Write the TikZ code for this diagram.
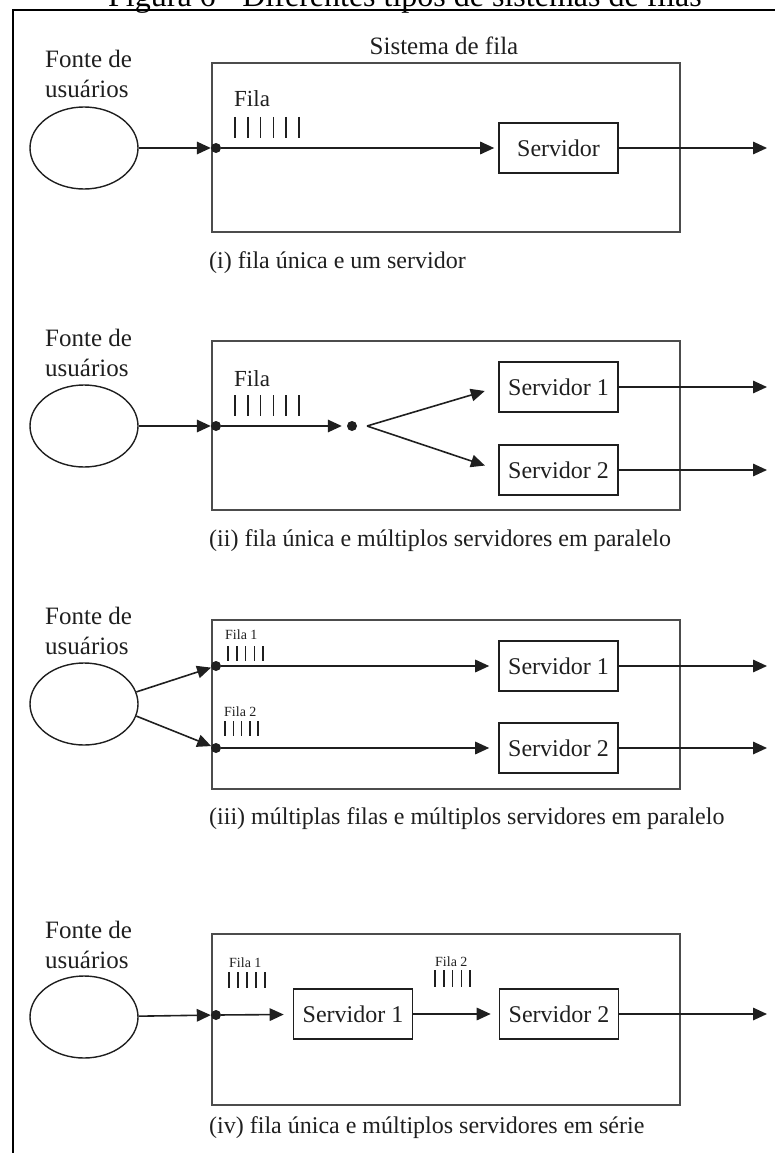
\documentclass[tikz,border=0pt]{standalone}
\usepackage{fontspec}
\setmainfont{Liberation Serif}
\usetikzlibrary{arrows.meta,shapes.geometric}

\definecolor{ink}{gray}{0.12}
\definecolor{boxink}{gray}{0.30}

\tikzset{
  conn/.style={draw=ink, line width=1.6pt},
  arr/.style={conn, -{Triangle[length=14pt,width=12.5pt]}},
  bar/.style={draw=ink, line width=1.5pt},
  outerframe/.style={draw=black, line width=2pt},
  sysbox/.style={rectangle, draw=boxink, line width=2pt, minimum width=468pt, minimum height=169pt, inner sep=0pt},
  source/.style={ellipse, draw=ink, line width=1.4pt, minimum width=108pt, minimum height=82pt, inner sep=0pt},
  server/.style={rectangle, draw=ink, line width=1.6pt, minimum width=119pt, minimum height=50pt, inner sep=0pt, text=ink, font=\fontsize{24}{24}\selectfont},
  qdot/.style={circle, fill=ink, inner sep=0pt, minimum size=10pt},
  lbl/.style={inner sep=0pt, anchor=base west, text=ink, font=\fontsize{25}{30}\selectfont},
  qlbl/.style={inner sep=0pt, anchor=base west, text=ink, font=\fontsize{23}{28}\selectfont},
  smalllbl/.style={inner sep=0pt, anchor=base west, text=ink, font=\fontsize{14}{14}\selectfont},
  caption/.style={inner sep=0pt, anchor=base west, text=ink, font=\fontsize{24}{29}\selectfont},
}

\begin{document}
\begin{tikzpicture}[x=1pt,y=-1pt]
\useasboundingbox (0,0) rectangle (775,1153);
\clip (0,0) rectangle (775,1153);

% figure title and outer frame
\node[inner sep=0pt, anchor=base, text=black, font=\fontsize{32}{38}\selectfont] (title) at (405,7) {Figura 6 - Diferentes tipos de sistemas de filas};
\draw[outerframe] (13,1170) -- (13,10) -- (800,10);

% ---------- (i) single queue, one server ----------
\node[lbl] (f1a) at (45,68) {Fonte de};
\node[lbl] (f1b) at (45,98) {usuários};
\node[source] (e1) at (84,148) {};
\node[sysbox] (b1) at (446,147.5) {};
\node[lbl, anchor=base] (sys) at (444,55) {Sistema de fila};
\node[qdot] (d1) at (216,148) {};
\node[qlbl] (q1) at (234,107) {Fila};
\foreach \x in {235,247.8,260.6,273.4,286.2,299} \draw[bar] (\x,117) -- (\x,138);
\node[server] (s1) at (558.5,148) {Servidor};
\coordinate (o1) at (767,148);
\draw[arr] (e1) -- (d1);
\draw[arr, shorten >=4pt] (d1) -- (s1);
\draw[arr] (s1) -- (o1);
\node[caption] (c1) at (209,268) {(i) fila única e um servidor};

% ---------- (ii) single queue, parallel servers ----------
\node[lbl] (f2a) at (45,346) {Fonte de};
\node[lbl] (f2b) at (45,376) {usuários};
\node[source] (e2) at (84,426) {};
\node[sysbox] (b2) at (446,425.5) {};
\node[qdot] (d2) at (216,426) {};
\node[qlbl] (q2) at (234,386) {Fila};
\foreach \x in {235,247.8,260.6,273.4,286.2,299} \draw[bar] (\x,395) -- (\x,416);
\node[qdot] (fd) at (352,426) {};
\coordinate (fk) at (367,426);
\node[server] (s21) at (558.5,387) {Servidor 1};
\node[server] (s22) at (558.5,470) {Servidor 2};
\coordinate (o21) at (767,387);
\coordinate (o22) at (767,470);
\draw[arr] (e2) -- (d2);
\draw[arr, shorten >=5pt] (d2) -- (fd);
\draw[arr, shorten >=14pt] (fk) -- (s21.west);
\draw[arr, shorten >=14pt] (fk) -- (s22.west);
\draw[arr] (s21) -- (o21);
\draw[arr] (s22) -- (o22);
\node[caption] (c2) at (209,546) {(ii) fila única e múltiplos servidores em paralelo};

% ---------- (iii) parallel queues, parallel servers ----------
\node[lbl] (f3a) at (45,624) {Fonte de};
\node[lbl] (f3b) at (45,654) {usuários};
\node[source] (e3) at (84,704) {};
\node[sysbox] (b3) at (446,704.5) {};
\node[qdot] (d31) at (216,666) {};
\node[qdot] (d32) at (216,748) {};
\node[smalllbl] (q31) at (225,639) {Fila 1};
\foreach \x in {228,236.75,245.5,254.25,263} \draw[bar] (\x,646) -- (\x,661);
\node[smalllbl] (q32) at (224,716) {Fila 2};
\foreach \x in {225,233.25,241.5,249.75,258} \draw[bar] (\x,721) -- (\x,736);
\node[server] (s31) at (558.5,666) {Servidor 1};
\node[server] (s32) at (558.5,748) {Servidor 2};
\coordinate (o31) at (767,666);
\coordinate (o32) at (767,748);
\draw[arr] (e3.13) -- (d31);
\draw[arr] (e3.-13) -- (d32);
\draw[arr, shorten >=9pt] (d31) -- (s31);
\draw[arr, shorten >=9pt] (d32) -- (s32);
\draw[arr] (s31) -- (o31);
\draw[arr] (s32) -- (o32);
\node[caption] (c3) at (209,824) {(iii) múltiplas filas e múltiplos servidores em paralelo};

% ---------- (iv) single queue, servers in series ----------
\node[lbl] (f4a) at (45,938) {Fonte de};
\node[lbl] (f4b) at (45,968) {usuários};
\node[source] (e4) at (84,1017) {};
\node[sysbox, minimum height=171pt] (b4) at (446,1019.5) {};
\node[qdot] (d4) at (216,1015) {};
\node[smalllbl] (q41) at (229,967) {Fila 1};
\foreach \x in {229,238,247,256,265} \draw[bar] (\x,972) -- (\x,988);
\node[server] (s41) at (353,1014) {Servidor 1};
\node[smalllbl] (q42) at (435,966) {Fila 2};
\foreach \x in {435,443.75,452.5,461.25,470} \draw[bar] (\x,970) -- (\x,987);
\node[server] (s42) at (559,1014) {Servidor 2};
\coordinate (o4) at (767,1014);
\draw[arr] (e4) -- (d4);
\draw[arr, shorten >=9pt] (d4) -- (s41);
\draw[arr, shorten >=8pt] (s41) -- (s42);
\draw[arr] (s42) -- (o4);
\node[caption] (c4) at (209,1133) {(iv) fila única e múltiplos servidores em série};
\end{tikzpicture}
\end{document}
